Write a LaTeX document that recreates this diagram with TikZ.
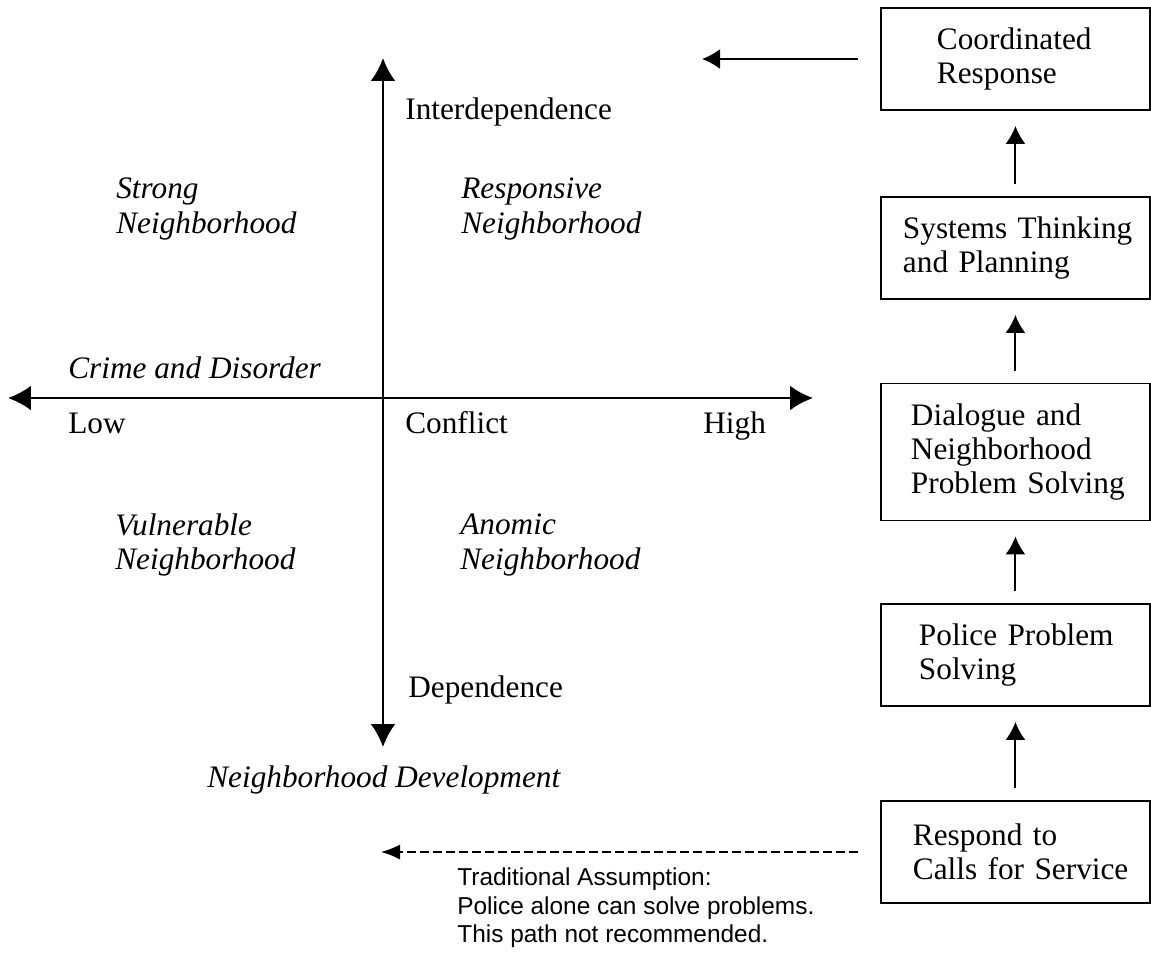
\documentclass[tikz,border=0pt]{standalone}
\usepackage{fontspec}
\setmainfont{Liberation Serif}
\setsansfont{Liberation Sans}
\usetikzlibrary{arrows.meta}
\newcommand\diagfont{\fontsize{17.8}{19.6}\selectfont}
\newcommand\notefont{\sffamily\fontsize{13.9}{16.2}\selectfont}

\begin{document}
\begin{tikzpicture}[x=0.02cm, y=-0.02cm, font=\diagfont,
  stage/.style={draw, line width=1.1pt, anchor=west, align=left, inner xsep=0pt, text width=5.38cm, minimum height=2.04cm, execute at begin node={\leftskip=#1}},
  uparrow/.style={-{Latex[length=0.36cm, width=0.4cm]}, line width=1.1pt, shorten <=0.24cm, shorten >=0.3cm},
  axis/.style={{Latex[length=0.46cm, width=0.5cm]}-{Latex[length=0.46cm, width=0.5cm]}, line width=1.5pt},
  plain/.style={anchor=west, inner sep=0pt, align=left},
  quad/.style={plain, font=\diagfont\itshape},
  note/.style={plain, font=\notefont}]
\useasboundingbox (0,0) rectangle (1151,952);

\coordinate (xleft) at (8,398);
\coordinate (xright) at (813,398);
\coordinate (ytop) at (383,58);
\coordinate (ybot) at (383,747);
\draw[axis] (xleft) -- (xright);
\draw[axis] (ybot) -- (ytop);

\node[plain] (inter) at (405,112) {Interdependence};
\node[quad] (strong) at (116,209) {Strong\\Neighborhood};
\node[quad] (responsive) at (461,209) {Responsive\\Neighborhood};
\node[quad] (crime) at (68,368) {Crime and Disorder};
\node[plain] (low) at (68,423) {Low};
\node[plain] (conflict) at (405,423) {Conflict};
\node[plain] (high) at (703,426) {High};
\node[quad] (vulnerable) at (115,545) {Vulnerable\\Neighborhood};
\node[quad] (anomic) at (460,545) {Anomic\\Neighborhood};
\node[plain] (dep) at (408,690) {Dependence};
\node[quad] (develop) at (207,780) {Neighborhood Development};

\node[stage=1.12cm] (coord) at (880,59) {Coordinated\\Response};
\node[stage=0.44cm] (systems) at (880,248) {Systems Thinking\\and Planning};
\node[stage=0.6cm, minimum height=2.74cm] (dialogue) at (880,452) {Dialogue and\\Neighborhood\\Problem Solving};
\node[stage=0.76cm] (police) at (880,655) {Police Problem\\Solving};
\node[stage=0.64cm] (respond) at (880,852) {Respond to\\Calls for Service};

\draw[uparrow] (respond) -- (police);
\draw[uparrow] (police) -- (dialogue);
\draw[uparrow] (dialogue) -- (systems);
\draw[uparrow] (systems) -- (coord);

\coordinate (coordend) at (702,59);
\draw[uparrow, shorten <=0.44cm, shorten >=0pt] (coord) -- (coordend);

\coordinate (dashend) at (381,852);
\draw[-{Latex[length=0.38cm, width=0.3cm]}, line width=0.8pt, dash pattern=on 0.18cm off 0.08cm, shorten <=0.44cm] (respond) -- (dashend);
\node[note] (assume) at (457,908) {Traditional Assumption:\\Police alone can solve problems.\\This path not recommended.};
\end{tikzpicture}
\end{document}
